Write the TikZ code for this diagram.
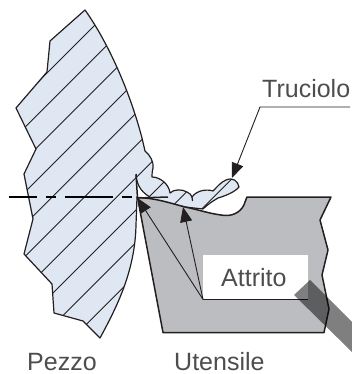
\documentclass[tikz,border=0pt]{standalone}
\usepackage{fontspec}
\setmainfont{Liberation Sans}
\usetikzlibrary{arrows.meta}
\definecolor{workblue}{HTML}{DFE7F3}
\definecolor{toolgray}{HTML}{BCBDC0}
\definecolor{inkdark}{HTML}{231F20}
\definecolor{labelgray}{HTML}{4D4D4F}
\tikzset{
  outlinepen/.style={draw=inkdark,line width=1.2pt,line join=round},
  hatchpen/.style={draw=inkdark,line width=0.9pt},
  leaderpen/.style={draw=inkdark,line width=0.9pt,-{Triangle[length=15pt,width=12pt]}},
  labeltext/.style={text=labelgray,font=\fontsize{25}{25}\selectfont,inner sep=0pt,anchor=base west},
}
\def\workpath{(85,10) .. controls (105,38) and (128,85) .. (142,138) -- (145,151)
  .. controls (150,155) and (154,162) .. (153,168) .. controls (152,172) and (152,175) .. (152,177)
  .. controls (160,177) and (169,184) .. (170,193)
  .. controls (174,189) and (182,189) .. (187,192) .. controls (190,193) and (191,195) .. (192,197)
  .. controls (197,190) and (207,189) .. (213,191) .. controls (217,187) and (221,182) .. (226,180)
  .. controls (233,177) and (238,181) .. (239,187) .. controls (235,192) and (225,196) .. (218,198)
  .. controls (213,201) and (208,204) .. (203,209) -- (185,207) -- (137,197)
  -- (136,225) .. controls (135,270) and (118,305) .. (100,338) -- (83,321) -- (54,313) -- (52,284)
  -- (24,254) -- (33,219) -- (24,174) -- (36,149) -- (16,108) -- (47,72) -- (50,41) -- cycle}
\begin{document}
\begin{tikzpicture}[x=1pt,y=-1pt]
\useasboundingbox (0,0) rectangle (352,374);
% workpiece and chip
\fill[workblue] \workpath;
\begin{scope}
  \clip \workpath;
  \foreach \s in {120,152.3,184.6,216.9,249.2,281.5,313.8,346.1,378.4,410.7}
    \draw[hatchpen] (\s-10,10) -- (\s-340,340);
\end{scope}
\draw[outlinepen] \workpath;
\draw[outlinepen] (192,197) -- (192.5,201);
% gap between the tip and the chip
\fill[white] (136,175) .. controls (137,187) and (143,193) .. (150,197) -- (137,197) -- cycle;
\draw[outlinepen] (136,175) .. controls (137,187) and (143,193) .. (150,197);
% tool
\path[fill=toolgray,outlinepen,line width=1.5pt] (137.5,197.5) .. controls (155,198) and (170,203) .. (185,207)
  .. controls (200,210) and (210,214) .. (225,215.5) .. controls (235,216) and (243,210) .. (245,202)
  -- (247,197) -- (331,197) -- (320,220) -- (328,250) -- (322,275) -- (329,309) -- (324,332.5) -- (163,332.5) -- cycle;
% reference line and tip
\coordinate (dashstart) at (9,197);
\coordinate (dashend) at (136,197);
\coordinate (tiptop) at (136,174);
\coordinate (tip) at (137.5,198);
\coordinate (rakepoint) at (183,207);
\coordinate (flatend) at (168,197);
\draw[draw=black,line width=1.5pt,dash pattern=on 28pt off 9pt on 10pt off 9pt on 48pt off 9pt on 10pt off 4pt] (dashstart) -- (dashend);
\draw[outlinepen,line width=1.5pt] (tiptop) -- (tip);
\draw[outlinepen,line width=1.5pt] (tip) -- (flatend);
% Attrito
\node[fill=white,inner sep=0pt,minimum width=105pt,minimum height=44pt,anchor=north west] (attrito) at (203,255) {};
\node[labeltext] (attritotext) at (221,286) {Attrito};
\draw[outlinepen] (attrito.south west) -- (attrito.south east);
\draw[leaderpen] (attrito.south west) -- (tip);
\draw[leaderpen] (attrito.south west) -- (rakepoint);
\fill[black,opacity=0.5] (294,295) -- (310,280) -- (352,322) -- (352,352) -- cycle;
% Truciolo
\coordinate (leaderright) at (350,107);
\coordinate (leaderknee) at (260,107);
\coordinate (chiptail) at (232,178);
\node[labeltext] (truciolo) at (262,98) {Truciolo};
\draw[leaderpen] (leaderright) -- (leaderknee) -- (chiptail);
% labels
\node[labeltext] (pezzo) at (27,370) {Pezzo};
\node[labeltext] (utensile) at (174,370) {Utensile};
\end{tikzpicture}
\end{document}
